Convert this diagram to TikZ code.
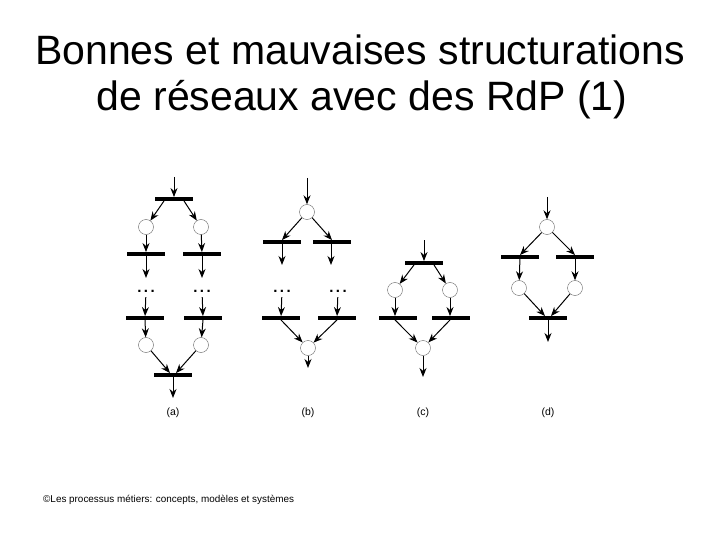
\documentclass[tikz,border=0pt]{standalone}
\usepackage{fontspec}
\setmainfont{Liberation Sans}
\usetikzlibrary{arrows.meta}

\tikzset{
  place/.style={circle,draw=black!60,thin,minimum size=15pt,inner sep=0pt},
  trans/.style={rectangle,fill=black,minimum width=38pt,minimum height=3.5pt,inner sep=0pt},
  arc/.style={->,>={Stealth[black,length=9pt,width=7pt]},line width=1pt},
  dots/.style={inner sep=0pt,outer sep=5pt,font=\fontsize{15}{15}\selectfont\bfseries},
  lbl/.style={font=\fontsize{10.5}{12}\selectfont}
}

\begin{document}
\begin{tikzpicture}[x=1pt,y=-1pt]
	\useasboundingbox (0,0) rectangle (720,540);

	% title
	\node[font=\fontsize{41}{46}\selectfont] (t1) at (360,50) {Bonnes et mauvaises structurations};
	\node[font=\fontsize{41}{46}\selectfont] (t2) at (362,100) {de réseaux avec des RdP (1)};

	% (a)
	\begin{scope}
		\coordinate (a0) at (174,177);
		\node[trans] (a1) at (174,199) {};
		\node[place] (a2) at (146,227) {};
		\node[place] (a3) at (201,227) {};
		\node[trans] (a4) at (146,254) {};
		\node[trans] (a5) at (202,254) {};
		\coordinate (a6) at (146,278);
		\coordinate (a7) at (202,278);
		\node[dots] (a8) at (146,291) {.\,.\,.};
		\node[dots] (a9) at (202,291) {.\,.\,.};
		\node[trans] (a10) at (145,318) {};
		\node[trans] (a11) at (203,318) {};
		\node[place] (a12) at (146,345) {};
		\node[place] (a13) at (201,345) {};
		\node[trans] (a14) at (173,375) {};
		\coordinate (a15) at (173,398);
		\node[lbl] (la) at (173,413) {(a)};

		\draw[arc] (a0) -- (a1.north);
		\draw[arc] ([xshift=-10pt]a1.south) -- (a2);
		\draw[arc] ([xshift=10pt]a1.south) -- (a3);
		\draw[arc] (a2) -- (a4);
		\draw[arc] (a3) -- (a5);
		\draw[arc] (a4.south) -- (a6);
		\draw[arc] (a5.south) -- (a7);
		\draw[arc] (a8) -- (a10);
		\draw[arc] (a9) -- (a11);
		\draw[arc] (a10.south) -- (a12);
		\draw[arc] (a11.south) -- (a13);
		\draw[arc] (a12) -- ([xshift=-3pt]a14.north);
		\draw[arc] (a13) -- ([xshift=3pt]a14.north);
		\draw[arc] (a14.south) -- (a15);
	\end{scope}

	% (b)
	\begin{scope}
		\coordinate (b0) at (307,178);
		\node[place] (b1) at (307,212) {};
		\node[trans] (b2) at (282,242) {};
		\node[trans] (b3) at (332,242) {};
		\coordinate (b4) at (282,265);
		\coordinate (b5) at (331,265);
		\node[dots] (b6) at (282,291) {.\,.\,.};
		\node[dots] (b7) at (338,291) {.\,.\,.};
		\node[trans] (b8) at (281,318) {};
		\node[trans] (b9) at (337,318) {};
		\node[place] (b10) at (308,348) {};
		\coordinate (b11) at (308,368);
		\node[lbl] (lb) at (308,413) {(b)};

		\draw[arc] (b0) -- (b1);
		\draw[arc] (b1) -- (b2.north);
		\draw[arc] (b1) -- (b3.north);
		\draw[arc] (b2.south) -- (b4);
		\draw[arc] ([xshift=-1pt]b3.south) -- (b5);
		\draw[arc] (b6) -- (b8);
		\draw[arc] (b7) -- (b9);
		\draw[arc] (b8.south) -- (b10);
		\draw[arc] (b9.south) -- (b10);
		\draw[arc] (b10) -- (b11);
	\end{scope}

	% (c)
	\begin{scope}
		\coordinate (c0) at (424,240);
		\node[trans] (c1) at (424,263) {};
		\node[place] (c2) at (395,290) {};
		\node[place] (c3) at (450,290) {};
		\node[trans] (c4) at (398,318) {};
		\node[trans] (c5) at (451,318) {};
		\node[place] (c6) at (423,348) {};
		\coordinate (c7) at (423,377);
		\node[lbl] (lc) at (423,413) {(c)};

		\draw[arc] (c0) -- (c1.north);
		\draw[arc] ([xshift=-10pt]c1.south) -- (c2);
		\draw[arc] ([xshift=10pt]c1.south) -- (c3);
		\draw[arc] (c2) -- ([xshift=-3pt]c4.north);
		\draw[arc] (c3) -- ([xshift=-1pt]c5.north);
		\draw[arc] ([xshift=-3pt]c4.south) -- (c6);
		\draw[arc] ([xshift=-1pt]c5.south) -- (c6);
		\draw[arc] (c6) -- (c7);
	\end{scope}

	% (d)
	\begin{scope}
		\coordinate (d0) at (547,197);
		\node[place] (d1) at (547,227) {};
		\node[trans] (d2) at (520,257) {};
		\node[trans] (d3) at (575,257) {};
		\node[place] (d4) at (519,288) {};
		\node[place] (d5) at (575,288) {};
		\node[trans] (d6) at (548,318) {};
		\coordinate (d7) at (548,342);
		\node[lbl] (ld) at (548,413) {(d)};

		\draw[arc] (d0) -- (d1);
		\draw[arc] (d1) -- (d2.north);
		\draw[arc] (d1) -- (d3.north);
		\draw[arc] (d2) -- (d4);
		\draw[arc] (d3) -- (d5);
		\draw[arc] (d4) -- ([xshift=-3pt]d6.north);
		\draw[arc] (d5) -- ([xshift=3pt]d6.north);
		\draw[arc] (d6.south) -- (d7);
	\end{scope}

	% footer
	\node[anchor=west,inner sep=0pt,font=\fontsize{9.9}{11}\selectfont] (ft) at (43,500)
		{©Les processus métiers: concepts, modèles et systèmes};
\end{tikzpicture}
\end{document}
